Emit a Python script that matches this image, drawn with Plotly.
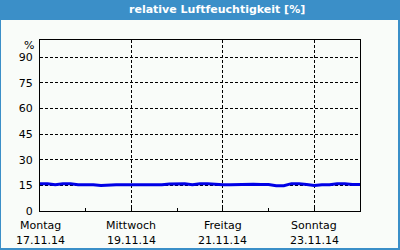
import pandas as pd
import plotly.graph_objects as go

# --- data ---
start = "2014-11-17 00:00"
humidity = [16.0, 16.0, 15.4, 16.0, 16.0, 15.4, 15.4, 15.4, 14.9, 15.3,
            15.3, 15.3, 15.3, 15.3, 15.3, 15.3, 15.4, 15.8, 16.0, 16.0,
            15.4, 16.0, 16.0, 15.6, 15.3, 15.3, 15.4, 15.8, 15.6, 15.5,
            15.5, 14.8, 14.8, 16.0, 16.0, 15.5, 14.9, 15.4, 15.4, 16.0,
            16.0, 15.5, 15.5]
times = pd.date_range(start, periods=len(humidity), freq="4h")

x_tick_dates = ["2014-11-17", "2014-11-19", "2014-11-21", "2014-11-23"]
x_tick_days = ["Montag", "Mittwoch", "Freitag", "Sonntag"]
x_tick_labels = ["17.11.14", "19.11.14", "21.11.14", "23.11.14"]
y_ticks = [0, 15, 30, 45, 60, 75, 90]
title_text = "relative Luftfeuchtigkeit [%]"
unit_text = "%"

BLUE = "#3b8fc8"
BG = "#f9fcf9"
FONT = "DejaVu Sans"

fig = go.Figure()
fig.add_trace(go.Scatter(x=times, y=humidity, mode="lines",
                         line=dict(color="#0000e6", width=3),
                         hoverinfo="skip", showlegend=False))

L, R, T, B = 40, 40, 40, 39
W, H = 400, 250
pw, ph = W - L - R, H - T - B

def px(x):
    return (x - L) / pw

def py(y):
    return (H - B - y) / ph

annotations = [
    dict(text="<b>" + title_text + "</b>", xref="paper", yref="paper",
         x=px(217), y=py(10), xanchor="center", yanchor="middle",
         showarrow=False, font=dict(family=FONT, size=11, color="white")),
    dict(text=unit_text, xref="paper", yref="paper",
         x=px(36), y=py(45), xanchor="right", yanchor="middle",
         showarrow=False, font=dict(family=FONT, size=11, color="black")),
]
for d, day, lab in zip(x_tick_dates, x_tick_days, x_tick_labels):
    annotations.append(dict(text=day, xref="x", yref="paper", x=d, y=py(225),
                            xanchor="center", yanchor="middle", showarrow=False,
                            font=dict(family=FONT, size=11, color="black")))
    annotations.append(dict(text=lab, xref="x", yref="paper", x=d, y=py(240),
                            xanchor="center", yanchor="middle", showarrow=False,
                            font=dict(family=FONT, size=11, color="black")))

fig.update_layout(
    width=W, height=H,
    margin=dict(l=L, r=R, t=T, b=B),
    paper_bgcolor=BG, plot_bgcolor=BG,
    font=dict(family=FONT, size=11, color="black"),
    showlegend=False,
    xaxis=dict(
        type="date", automargin=False,
        range=["2014-11-17", "2014-11-24"],
        tickvals=x_tick_dates, showticklabels=False,
        ticks="inside", ticklen=3, tickcolor="black",
        minor=dict(dtick=86400000, tick0="2014-11-17", ticks="inside",
                   ticklen=3, tickcolor="black", showgrid=False),
        showgrid=True, gridcolor="black", griddash="3px,2px", gridwidth=1,
        showline=True, linecolor="black", linewidth=1, mirror=True,
        zeroline=False,
    ),
    yaxis=dict(
        range=[0, 100], tickvals=y_ticks, automargin=False,
        ticks="", ticklabelstandoff=4,
        showgrid=True, gridcolor="black", griddash="3px,2px", gridwidth=1,
        showline=True, linecolor="black", linewidth=1, mirror=True,
        zeroline=False, tickfont=dict(family=FONT, size=11),
    ),
    shapes=[
        dict(type="rect", xref="paper", yref="paper",
             x0=px(0), x1=px(W), y0=py(20), y1=py(0),
             fillcolor=BLUE, line=dict(width=0), layer="above"),
        dict(type="rect", xref="paper", yref="paper",
             x0=px(0), x1=px(1), y0=py(H), y1=py(0),
             fillcolor=BLUE, line=dict(width=0), layer="above"),
        dict(type="rect", xref="paper", yref="paper",
             x0=px(W - 2), x1=px(W), y0=py(H), y1=py(0),
             fillcolor=BLUE, line=dict(width=0), layer="above"),
        dict(type="rect", xref="paper", yref="paper",
             x0=px(0), x1=px(W), y0=py(H), y1=py(H - 2),
             fillcolor=BLUE, line=dict(width=0), layer="above"),
    ],
    annotations=annotations,
)

fig.write_html("out.html")
